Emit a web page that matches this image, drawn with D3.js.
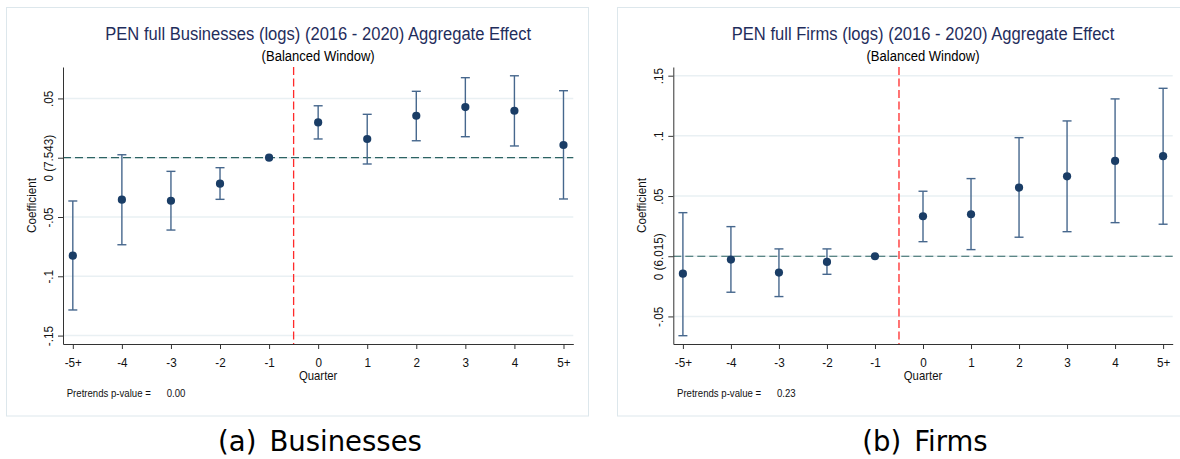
<!DOCTYPE html>
<html>
<head>
<meta charset="utf-8">
<script src="https://cdn.jsdelivr.net/npm/d3@7"></script>
<style>
  html, body { margin: 0; padding: 0; background: #fff; }
  svg { display: block; }
</style>
</head>
<body>
<svg id="chart" width="1180" height="459"></svg>
<script>
// Event-study quarters relative to treatment
const quarters = ["-5+", "-4", "-3", "-2", "-1", "0", "1", "2", "3", "4", "5+"];

// Businesses (logs): point estimates and 95% CI bounds (quarter -1 is the reference)
const businessCoef = [-0.0826, -0.0354, -0.0363, -0.0219, 0, 0.0298, 0.0158, 0.0354, 0.0427, 0.0396, 0.0107];
const businessLo   = [-0.1284, -0.0734, -0.0610, -0.0351, null, 0.0158, -0.0053, 0.0143, 0.0177, 0.0099, -0.0348];
const businessHi   = [-0.0365, 0.0025, -0.0115, -0.0084, null, 0.0438, 0.0366, 0.0560, 0.0675, 0.0691, 0.0565];

// Firms (logs)
const firmCoef = [-0.0145, -0.0028, -0.0136, -0.0047, 0, 0.0332, 0.0349, 0.0570, 0.0664, 0.0792, 0.0831];
const firmLo   = [-0.0660, -0.0299, -0.0335, -0.0150, null, 0.0121, 0.0055, 0.0158, 0.0204, 0.0279, 0.0266];
const firmHi   = [0.0362, 0.0246, 0.0061, 0.0061, null, 0.0540, 0.0645, 0.0985, 0.1124, 0.1307, 0.1395];

// Y-axis ticks and their labels (zero labelled with the baseline mean)
const businessTicks = [-0.15, -0.1, -0.05, 0, 0.05];
const businessTickLabels = ["-.15", "-.1", "-.05", "0 (7.543)", ".05"];
const firmTicks = [-0.05, 0, 0.05, 0.1, 0.15];
const firmTickLabels = ["-.05", "0 (6.015)", ".05", ".1", ".15"];

const panelTitles = [
  "PEN full Businesses (logs) (2016 - 2020) Aggregate Effect",
  "PEN full Firms (logs) (2016 - 2020) Aggregate Effect"
];
const panelSubtitle = "(Balanced Window)";
const pretrendPValues = ["0.00", "0.23"];
const captionTags = ["(a)", "(b)"];
const captionNames = ["Businesses", "Firms"];
const eventIndex = 4.5; // treatment falls between quarters -1 and 0

const svg = d3.select("#chart");
const FONT = "'Liberation Sans', Arial, Helvetica, sans-serif";
const SQ = 0.9; // horizontal squeeze of the graph lettering

const colors = {
  point: "#1a3d66",
  bar: "#46678d",
  grid: "#e9f0f3",
  frame: "#dde7ec",
  zero: "#2c6363",
  event: "#ff2a2a",
  title: "#1f2d5c",
  axis: "#333"
};

const layouts = [
  { frame: [6.5, 7.5, 588.5, 416], x0: 63, x1: 573.3, y0: 67, y1: 344, yDomain: [-0.1571, 0.0765], captionX: 320 },
  { frame: [617.5, 7.5, 1200, 416], x0: 673.3, x1: 1172.7, y0: 67, y1: 344, yDomain: [-0.0729, 0.1572], captionX: 925 }
];

const panels = [
  { coef: businessCoef, lo: businessLo, hi: businessHi, ticks: businessTicks, labels: businessTickLabels },
  { coef: firmCoef, lo: firmLo, hi: firmHi, ticks: firmTicks, labels: firmTickLabels }
];

function squeezeText(sel, x, y, rotate) {
  sel.attr("x", 0).attr("y", 0).attr("dy", null)
     .attr("transform", `translate(${x},${y})` + (rotate ? ` rotate(${rotate})` : "") + ` scale(${SQ},1)`);
}

panels.forEach((p, k) => {
  const L = layouts[k];
  const g = svg.append("g");

  const x = d3.scaleLinear().domain([-0.2, quarters.length - 1 + 0.2]).range([L.x0, L.x1]);
  const y = d3.scaleLinear().domain(L.yDomain).range([L.y1, L.y0]);

  // outer frame
  g.append("rect")
    .attr("x", L.frame[0]).attr("y", L.frame[1])
    .attr("width", L.frame[2] - L.frame[0]).attr("height", L.frame[3] - L.frame[1])
    .attr("fill", "#fff").attr("stroke", colors.frame).attr("stroke-width", 1);

  // gridlines
  g.append("g").selectAll("line").data(p.ticks).join("line")
    .attr("x1", L.x0).attr("x2", L.x1)
    .attr("y1", d => y(d)).attr("y2", d => y(d))
    .attr("stroke", colors.grid).attr("stroke-width", 1.5);

  // zero reference line
  g.append("line")
    .attr("x1", L.x0).attr("x2", L.x1).attr("y1", y(0)).attr("y2", y(0))
    .attr("stroke", colors.zero).attr("stroke-width", 1.2).attr("stroke-dasharray", "8,4");

  // treatment line
  g.append("line")
    .attr("x1", x(eventIndex)).attr("x2", x(eventIndex)).attr("y1", L.y0).attr("y2", L.y1)
    .attr("stroke", colors.event).attr("stroke-width", 1.3).attr("stroke-dasharray", "8,3.5");

  // axes
  const yAxis = g.append("g").attr("transform", `translate(${L.x0},0)`)
    .call(d3.axisLeft(y).tickValues(p.ticks).tickFormat((d, i) => p.labels[i]).tickSize(5).tickSizeOuter(0));
  const xAxis = g.append("g").attr("transform", `translate(0,${L.y1})`)
    .call(d3.axisBottom(x).tickValues(d3.range(quarters.length)).tickFormat(i => quarters[i]).tickSize(5).tickSizeOuter(0));

  [yAxis, xAxis].forEach(a => {
    a.select(".domain").attr("stroke", colors.axis).attr("stroke-width", 1);
    a.selectAll(".tick line").attr("stroke", colors.axis).attr("stroke-width", 1);
    a.selectAll(".tick text").attr("font-family", FONT).attr("font-size", 13).attr("fill", "#111");
  });
  yAxis.selectAll(".tick text").attr("text-anchor", "middle")
    .each(function () { squeezeText(d3.select(this), -10.5, 0, -90); });
  xAxis.selectAll(".tick text").attr("text-anchor", "middle")
    .each(function () { squeezeText(d3.select(this), 0, 22.5, 0); });

  // confidence intervals
  const idx = d3.range(quarters.length).filter(i => p.lo[i] !== null);
  const bars = g.append("g").attr("stroke", colors.bar).attr("stroke-width", 1.4).attr("fill", "none");
  bars.selectAll("line.v").data(idx).join("line").attr("class", "v")
    .attr("x1", i => x(i)).attr("x2", i => x(i))
    .attr("y1", i => y(p.lo[i])).attr("y2", i => y(p.hi[i]));
  bars.selectAll("line.lo").data(idx).join("line").attr("class", "lo")
    .attr("x1", i => x(i) - 4.5).attr("x2", i => x(i) + 4.5)
    .attr("y1", i => y(p.lo[i])).attr("y2", i => y(p.lo[i]));
  bars.selectAll("line.hi").data(idx).join("line").attr("class", "hi")
    .attr("x1", i => x(i) - 4.5).attr("x2", i => x(i) + 4.5)
    .attr("y1", i => y(p.hi[i])).attr("y2", i => y(p.hi[i]));

  // point estimates
  g.append("g").selectAll("circle").data(p.coef).join("circle")
    .attr("cx", (d, i) => x(i)).attr("cy", d => y(d)).attr("r", 4.1)
    .attr("fill", colors.point);

  const cx = (L.x0 + L.x1) / 2;

  // titles
  g.append("text").text(panelTitles[k])
    .attr("font-family", FONT).attr("font-size", 18.4).attr("fill", colors.title)
    .attr("text-anchor", "middle").call(s => squeezeText(s, cx, 39.5, 0));
  g.append("text").text(panelSubtitle)
    .attr("font-family", FONT).attr("font-size", 14.5).attr("fill", "#000")
    .attr("text-anchor", "middle").call(s => squeezeText(s, cx, 60.5, 0));

  // axis titles
  g.append("text").text("Coefficient")
    .attr("font-family", FONT).attr("font-size", 13).attr("fill", "#111")
    .attr("text-anchor", "middle").call(s => squeezeText(s, L.x0 - 27, (L.y0 + L.y1) / 2, -90));
  g.append("text").text("Quarter")
    .attr("font-family", FONT).attr("font-size", 12.6).attr("fill", "#111")
    .attr("text-anchor", "middle").call(s => squeezeText(s, cx, 380, 0));

  // pretrend test note
  g.append("text").text("Pretrends p-value =")
    .attr("font-family", FONT).attr("font-size", 10.7).attr("fill", "#111")
    .call(s => squeezeText(s, L.x0 + 3.7, 397, 0));
  g.append("text").text(pretrendPValues[k])
    .attr("font-family", FONT).attr("font-size", 10.7).attr("fill", "#111")
    .call(s => squeezeText(s, L.x0 + 103.7, 397, 0));

  // subfigure caption
  const cap = g.append("text")
    .attr("font-family", "'DejaVu Sans', 'Noto Sans', sans-serif").attr("font-size", 27.5).attr("fill", "#000")
    .attr("text-anchor", "middle").attr("x", L.captionX).attr("y", 451);
  cap.append("tspan").text(captionTags[k]);
  cap.append("tspan").attr("dx", 13).text(captionNames[k]);
});
</script>
</body>
</html>
